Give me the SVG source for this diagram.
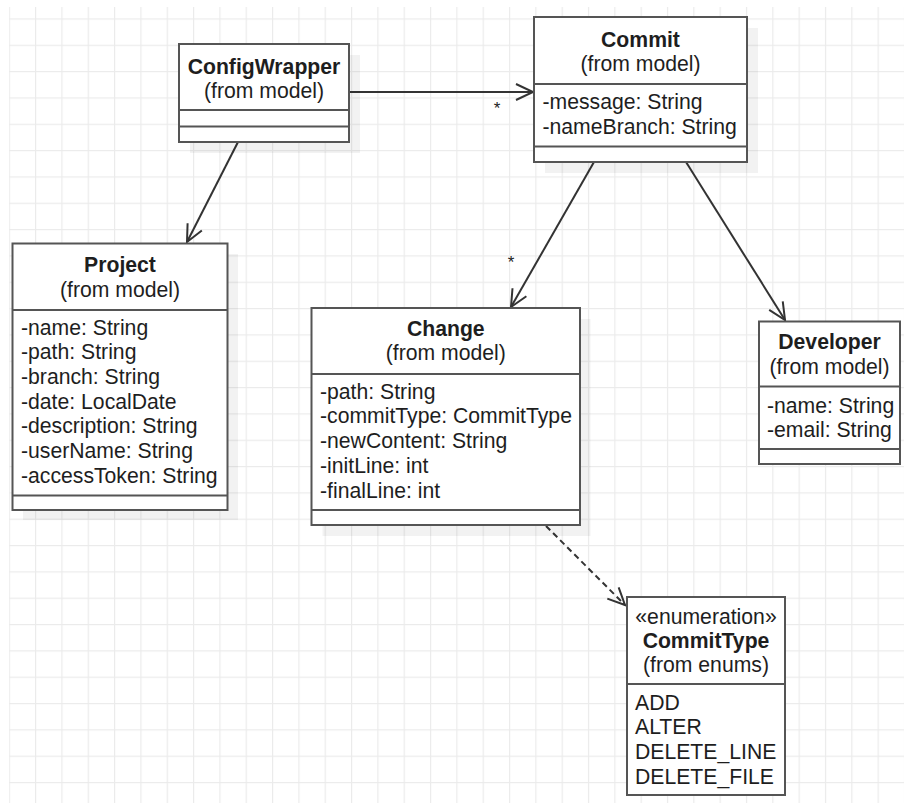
<svg xmlns="http://www.w3.org/2000/svg" width="904" height="803" viewBox="0 0 904 803">
  <style>
    .box { fill: #ffffff; stroke: #555555; stroke-width: 2; }
    .shadow { fill: #000000; fill-opacity: 0.05; }
    .div { stroke: #555555; stroke-width: 2; fill: none; }
    text { font-family: "Liberation Sans", Arial, sans-serif; font-size: 21.2px; fill: #1e1e1e; }
    .title { font-weight: bold; text-anchor: middle; }
    .sub { text-anchor: middle; }
    .mult { font-size: 17px; text-anchor: middle; }
    .edge { stroke: #333333; stroke-width: 2; fill: none; }
    .dashed { stroke-dasharray: 6 4; }
  </style>
  <defs>
    <pattern id="grid" patternUnits="userSpaceOnUse" x="8.7" y="18.4" width="26.33" height="26.33">
      <rect x="0" y="0" width="1.2" height="26.33" fill="#ebebeb"/>
      <rect x="0" y="0" width="26.33" height="1.2" fill="#ebebeb"/>
    </pattern>
    <marker id="open" markerUnits="userSpaceOnUse" markerWidth="24" markerHeight="24" viewBox="-20 -12 24 24" refX="0" refY="0" orient="auto" overflow="visible">
      <path d="M-17,-8 L0,0 L-17,8" fill="none" stroke="#333333" stroke-width="2"/>
    </marker>
  </defs>

  <!-- background grid -->
  <rect x="0" y="0" width="904" height="803" fill="#ffffff"/>
  <rect x="9" y="7" width="895" height="796" fill="url(#grid)"/>

  <!-- connectors -->
  <g id="connectors">
    <line class="edge" x1="349" y1="92" x2="533" y2="92" marker-end="url(#open)"/>
    <text class="mult" x="497" y="114">*</text>
    <line class="edge" x1="238" y1="142" x2="187" y2="242" marker-end="url(#open)"/>
    <line class="edge" x1="594" y1="162" x2="511" y2="307" marker-end="url(#open)"/>
    <text class="mult" x="511" y="268">*</text>
    <line class="edge" x1="686" y1="162" x2="785" y2="320" marker-end="url(#open)"/>
    <line class="edge dashed" x1="546" y1="526" x2="625" y2="605" marker-end="url(#open)"/>
  </g>

  <!-- ConfigWrapper -->
  <g id="ConfigWrapper">
    <rect class="shadow" x="190" y="55" width="170" height="98"/>
    <rect class="box" x="179" y="44" width="170" height="98"/>
    <line class="div" x1="179" y1="110" x2="349" y2="110"/>
    <line class="div" x1="179" y1="126.5" x2="349" y2="126.5"/>
    <text class="title" x="264" y="74">ConfigWrapper</text>
    <text class="sub" x="264" y="98">(from model)</text>
  </g>

  <!-- Commit -->
  <g id="Commit">
    <rect class="shadow" x="545" y="28" width="213" height="145"/>
    <rect class="box" x="534" y="17" width="213" height="145"/>
    <line class="div" x1="534" y1="84" x2="747" y2="84"/>
    <line class="div" x1="534" y1="146.5" x2="747" y2="146.5"/>
    <text class="title" x="640.5" y="46.5">Commit</text>
    <text class="sub" x="640.5" y="70.5">(from model)</text>
    <text x="542.5" y="108.7">-message: String</text>
    <text x="542.5" y="133.5">-nameBranch: String</text>
  </g>

  <!-- Project -->
  <g id="Project">
    <rect class="shadow" x="23" y="254" width="215" height="266"/>
    <rect class="box" x="12.5" y="243.5" width="215" height="266.5"/>
    <line class="div" x1="12.5" y1="310" x2="227.5" y2="310"/>
    <line class="div" x1="12.5" y1="495.5" x2="227.5" y2="495.5"/>
    <text class="title" x="120" y="272">Project</text>
    <text class="sub" x="120" y="297">(from model)</text>
    <text x="21" y="334.5">-name: String</text>
    <text x="21" y="359.2">-path: String</text>
    <text x="21" y="383.9">-branch: String</text>
    <text x="21" y="408.6">-date: LocalDate</text>
    <text x="21" y="433.3">-description: String</text>
    <text x="21" y="458">-userName: String</text>
    <text x="21" y="482.7">-accessToken: String</text>
  </g>

  <!-- Change -->
  <g id="Change">
    <rect class="shadow" x="322.5" y="319" width="268" height="217"/>
    <rect class="box" x="311.5" y="308" width="268.5" height="217"/>
    <line class="div" x1="311.5" y1="374" x2="580" y2="374"/>
    <line class="div" x1="311.5" y1="510" x2="580" y2="510"/>
    <text class="title" x="445.8" y="336.3">Change</text>
    <text class="sub" x="445.8" y="360.3">(from model)</text>
    <text x="320" y="398.7">-path: String</text>
    <text x="320" y="423.4">-commitType: CommitType</text>
    <text x="320" y="448.1">-newContent: String</text>
    <text x="320" y="472.8">-initLine: int</text>
    <text x="320" y="497.5">-finalLine: int</text>
  </g>

  <!-- Developer -->
  <g id="Developer">
    <rect class="box" x="759" y="321.5" width="141" height="142.5"/>
    <line class="div" x1="759" y1="386.5" x2="900" y2="386.5"/>
    <line class="div" x1="759" y1="449" x2="900" y2="449"/>
    <text class="title" x="829.5" y="349.3">Developer</text>
    <text class="sub" x="829.5" y="374.3">(from model)</text>
    <text x="767" y="412.7">-name: String</text>
    <text x="767" y="436.5">-email: String</text>
  </g>

  <!-- CommitType -->
  <g id="CommitType">
    <rect class="box" x="627" y="597" width="158" height="198"/>
    <line class="div" x1="627" y1="684" x2="785" y2="684"/>
    <text class="sub" x="706" y="623.7">«enumeration»</text>
    <text class="title" x="706" y="648">CommitType</text>
    <text class="sub" x="706" y="672">(from enums)</text>
    <text x="635" y="709.5">ADD</text>
    <text x="635" y="734.2">ALTER</text>
    <text x="635" y="758.9">DELETE_LINE</text>
    <text x="635" y="783.6">DELETE_FILE</text>
  </g>
</svg>
